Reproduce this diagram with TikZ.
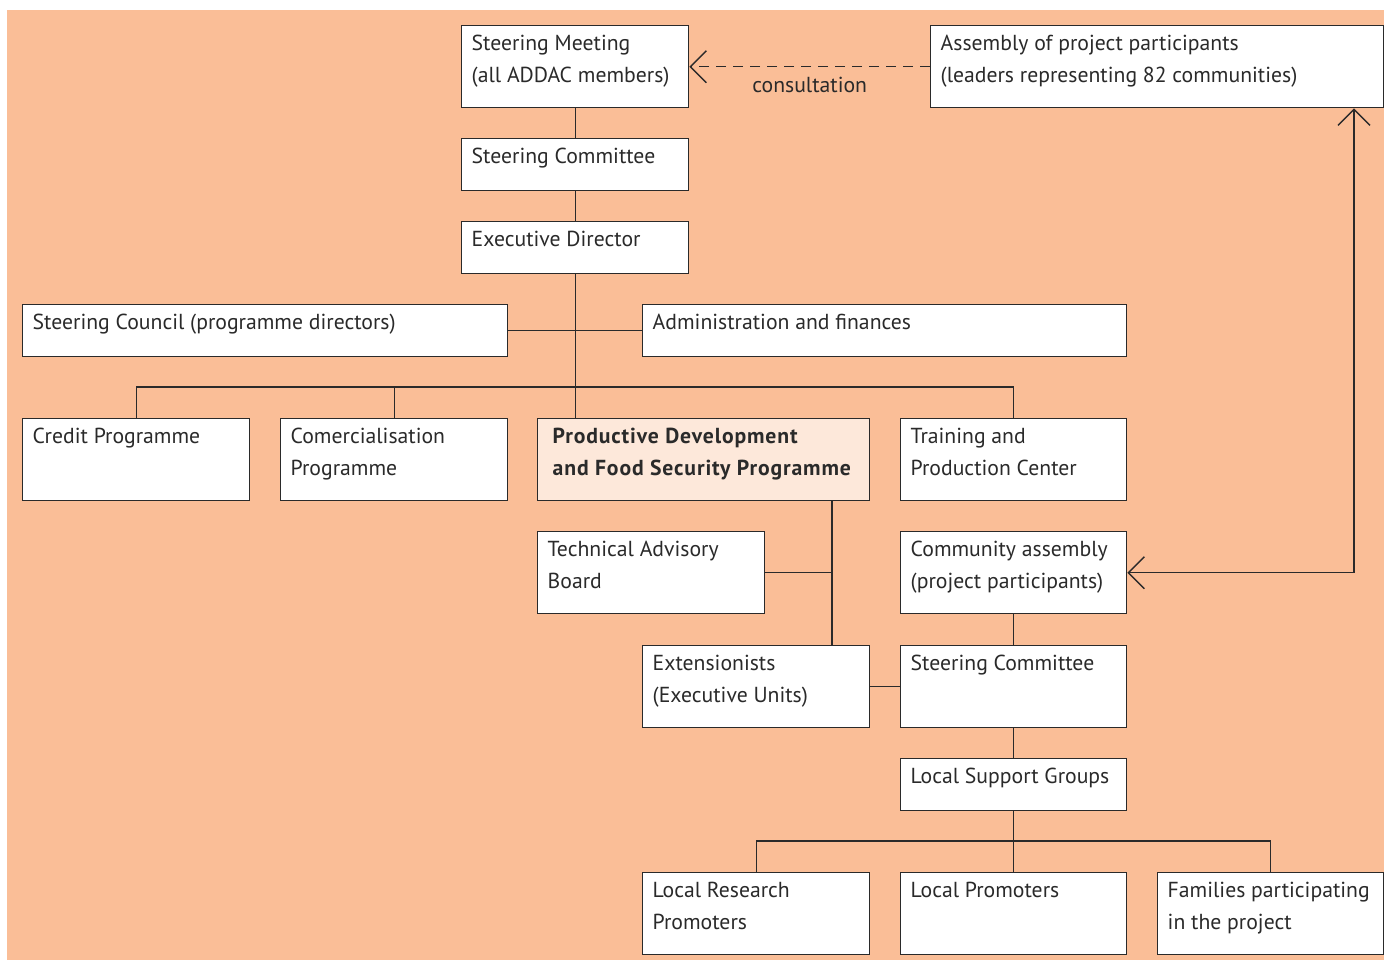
\documentclass[tikz,border=0pt]{standalone}
\usepackage{fontspec}
\setmainfont{PT Sans}[BoldFeatures={LetterSpace=4}]
\usetikzlibrary{arrows.meta}
\definecolor{mypeach}{RGB}{250,190,151}
\definecolor{mylight}{RGB}{253,232,218}
\definecolor{myink}{RGB}{42,42,42}
\newcommand{\boxtext}[4][5pt]{\parbox[c][#3][t]{#2}{\fontsize{10.85pt}{16pt}\selectfont\raggedright\leftskip=#1\rule{0pt}{12.5pt}#4}}
\tikzset{
		unit/.style = 	{draw=myink, fill=white, line width=0.7pt, inner sep=0pt, anchor=north west, text=myink},
		main/.style = 	{unit, fill=mylight, font=\bfseries},
		link/.style = 	{draw=myink, line width=0.7pt, >={Straight Barb[length=8pt,width=16pt]}},
		x=0.5pt, y=-0.5pt
}

\begin{document}
\begin{tikzpicture}
  \useasboundingbox (0,0) rectangle (1384,960);
  \fill[mypeach] (7,10) rectangle (1384,960);

  \node[unit] (meeting)   at (461,25)  {\boxtext{113.5pt}{41pt}{Steering Meeting\\(all ADDAC members)}};
  \node[unit] (assembly)  at (930,25)  {\boxtext{226.5pt}{41pt}{Assembly of project participants\\(leaders representing 82 communities)}};
  \node[unit] (committee) at (461,138) {\boxtext{113.5pt}{26pt}{Steering Committee}};
  \node[unit] (director)  at (461,221) {\boxtext{113.5pt}{26pt}{Executive Director}};
  \node[unit] (council)   at (22,304)  {\boxtext{242.5pt}{26pt}{Steering Council (programme directors)}};
  \node[unit] (admin)     at (642,304) {\boxtext{242pt}{26pt}{Administration and finances}};
  \node[unit] (credit)    at (22,418)  {\boxtext{113.5pt}{41pt}{Credit Programme}};
  \node[unit] (comerc)    at (280,418) {\boxtext{113.5pt}{41pt}{Comercialisation\\Programme}};
  \node[main] (prodev)    at (537,418) {\boxtext[7.5pt]{166pt}{41pt}{Productive Development\\and Food Security Programme}};
  \node[unit] (training)  at (900,418) {\boxtext{113pt}{41pt}{Training and\\Production Center}};
  \node[unit] (advisory)  at (537,531) {\boxtext{113.5pt}{41pt}{Technical Advisory\\Board}};
  \node[unit] (community) at (900,531) {\boxtext{113pt}{41pt}{Community assembly\\(project participants)}};
  \node[unit] (extension) at (642,645) {\boxtext{113.5pt}{41pt}{Extensionists\\(Executive Units)}};
  \node[unit] (localcom)  at (900,645) {\boxtext{113pt}{41pt}{Steering Committee}};
  \node[unit] (support)   at (900,758) {\boxtext{113pt}{26pt}{Local Support Groups}};
  \node[unit] (research)  at (642,872) {\boxtext{113.5pt}{41pt}{Local Research\\Promoters}};
  \node[unit] (promoters) at (900,872) {\boxtext{113pt}{41pt}{Local Promoters}};
  \node[unit] (families)  at (1157,872) {\boxtext{113pt}{41pt}{Families participating\\in the project}};

  \path (0,387) coordinate (bus) (832,0) coordinate (spine)
        (0,841) coordinate (lowbus) (1354,0) coordinate (rail);

  \draw[link] (meeting) -- (committee) (committee) -- (director);
  \draw[link] (director.south) -- (director.south |- prodev.north);
  \draw[link] (council.east) -- (admin.west);
  \draw[link] (credit.north) |- (bus -| training.north) -- (training.north);
  \draw[link] (comerc.north) -- (comerc.north |- bus);
  \draw[link] (prodev.south -| spine) -- (extension.north -| spine);
  \draw[link] (advisory.east) -- (advisory.east -| spine);
  \draw[link] (extension.east) -- (localcom.west);
  \draw[link] (community) -- (localcom) (localcom) -- (support);
  \draw[link] (research.north) |- (lowbus -| families.north) -- (families.north);
  \draw[link] (support.south) -- (promoters.north);

  \draw[link, dash pattern=on 5pt off 3.5pt, ->] (assembly.west) -- node[midway, yshift=-9pt, text=myink, font=\fontsize{10.85pt}{16pt}\selectfont] (consult) {consultation} (meeting.east);
  \draw[link, <->] (community.east) -| (assembly.south -| rail);
\end{tikzpicture}
\end{document}
